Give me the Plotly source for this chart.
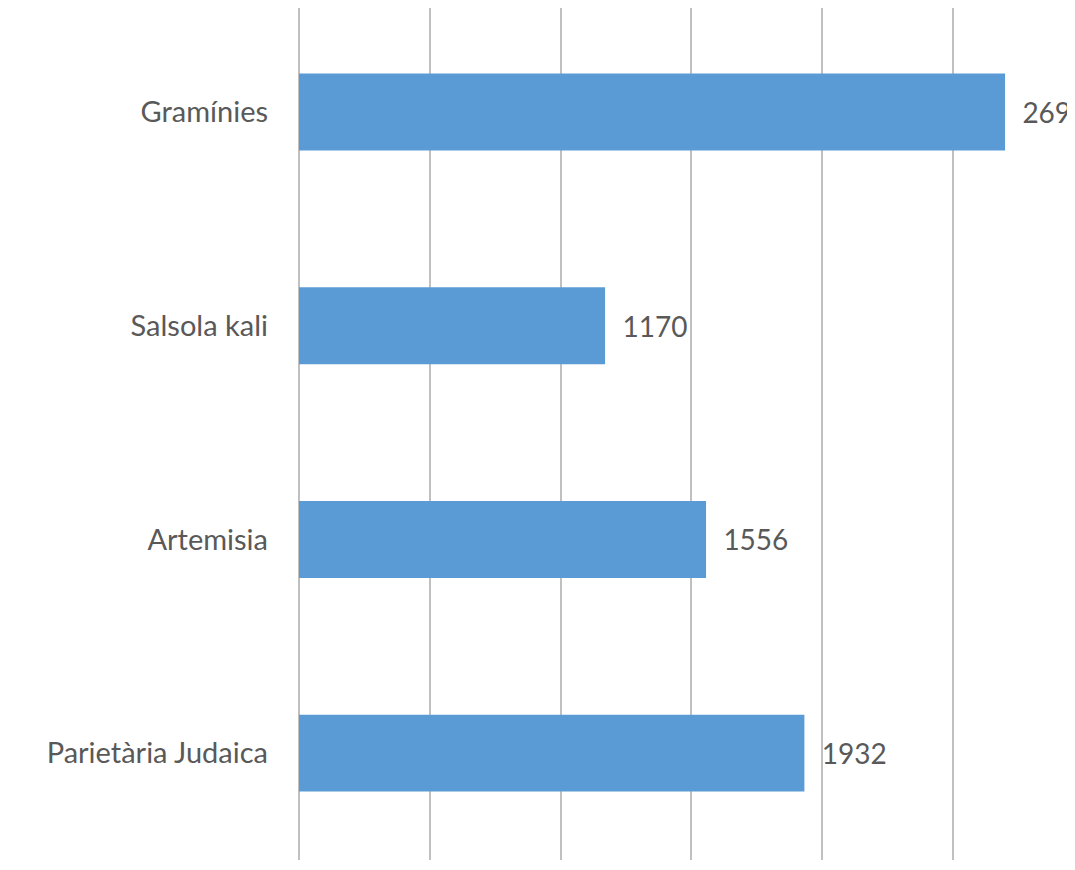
import plotly.graph_objects as go

categories = ["Gramínies", "Salsola kali", "Artemisia", "Parietària Judaica"]
values = [2699, 1170, 1556, 1932]

fig = go.Figure(go.Bar(
    x=values,
    y=categories,
    orientation="h",
    marker=dict(color="#5B9BD5", line=dict(width=0)),
    width=0.36,
    text=["\u00a0\u00a0" + str(v) for v in values],
    textposition="outside",
    textfont=dict(family="Lato", size=28, color="#595959"),
    cliponaxis=False,
))

fig.update_layout(
    width=1075, height=870,
    margin=dict(l=291, r=0, t=0, b=18),
    paper_bgcolor="white", plot_bgcolor="white",
    showlegend=False,
    font=dict(family="Lato", color="#595959"),
)
fig.update_xaxes(
    range=[0, 2997], dtick=500, tick0=0,
    showgrid=True, gridcolor="#C0C0C0", gridwidth=2,
    zeroline=True, zerolinecolor="#C0C0C0", zerolinewidth=2,
    showticklabels=False, showline=False, ticks="",
)
fig.update_yaxes(
    range=[3.5, -0.487],
    tickfont=dict(family="Lato", size=29, color="#595959"),
    showgrid=False, showline=False, ticks="",
    ticklabelstandoff=30,
)

fig.write_html("out.html")
